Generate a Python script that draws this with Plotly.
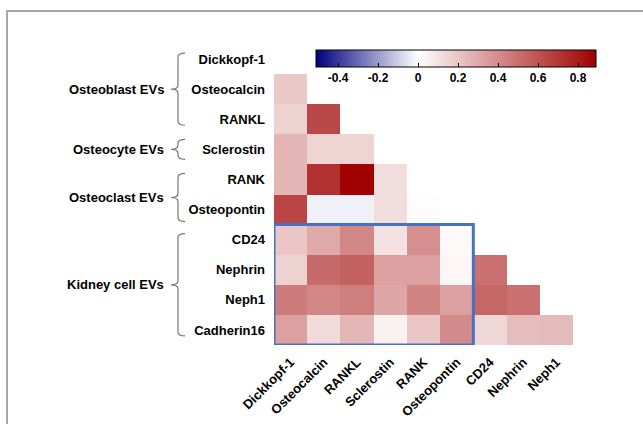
import plotly.graph_objects as go

variables = ["Dickkopf-1", "Osteocalcin", "RANKL", "Sclerostin", "RANK",
             "Osteopontin", "CD24", "Nephrin", "Neph1", "Cadherin16"]
x_labels = variables[:-1]

# lower-triangle correlation values (row i has i entries)
r_osteocalcin = [0.19]
r_rankl = [0.16, 0.64]
r_sclerostin = [0.26, 0.15, 0.15]
r_rank = [0.26, 0.72, 0.88, 0.12]
r_osteopontin = [0.65, -0.03, -0.03, 0.12, 0.01]
r_cd24 = [0.20, 0.30, 0.42, 0.10, 0.39, 0.02]
r_nephrin = [0.16, 0.52, 0.55, 0.33, 0.33, 0.03, 0.50]
r_neph1 = [0.46, 0.42, 0.45, 0.31, 0.43, 0.33, 0.53, 0.50]
r_cadherin16 = [0.33, 0.13, 0.25, 0.05, 0.20, 0.41, 0.14, 0.23, 0.24]

rows = [[], r_osteocalcin, r_rankl, r_sclerostin, r_rank, r_osteopontin,
        r_cd24, r_nephrin, r_neph1, r_cadherin16]

groups = ["Osteoblast EVs", "Osteocyte EVs", "Osteoclast EVs", "Kidney cell EVs"]
group_rows = [(0, 2), (3, 3), (4, 5), (6, 9)]

cb_ticks = [-0.4, -0.2, 0, 0.2, 0.4, 0.6, 0.8]
zmin, zmax = -0.51, 0.89

n = len(x_labels)
z = [r + [None] * (n - len(r)) for r in rows]

W, H = 643, 424
ML, MR, MT, MB = 274, 70, 44, 79
PW, PH = W - ML - MR, H - MT - MB

def px(xp):
    return (xp - ML) / PW

def py(yp):
    return (MT + PH - yp) / PH

row_h = PH / len(variables)

def row_center(i):
    return MT + (i + 0.5) * row_h

wpos = (0 - zmin) / (zmax - zmin)
colorscale = [[0, "rgb(0,0,128)"], [wpos, "rgb(255,255,255)"], [1, "rgb(160,0,0)"]]

fig = go.Figure(go.Heatmap(
    z=z, x=x_labels, y=variables, zmin=zmin, zmax=zmax,
    colorscale=colorscale, hoverongaps=False, xgap=0, ygap=0,
    colorbar=dict(orientation="h", x=px(316), xanchor="left", y=py(50), yanchor="top",
                  xpad=0, ypad=0,
                  len=280, lenmode="pixels", thickness=17, outlinecolor="black",
                  outlinewidth=1, tickvals=cb_ticks, ticktext=[f"{t:g}" for t in cb_ticks],
                  ticks="inside", ticklen=4, tickcolor="black",
                  tickfont=dict(family="Liberation Sans", size=12, color="black", weight="bold"),
                  ticklabelposition="outside bottom")
))

shapes = []
# frame
shapes.append(dict(type="rect", xref="paper", yref="paper", x0=px(7), x1=px(660),
                   y0=py(11), y1=py(440), line=dict(color="#a8a8a8", width=2)))
# blue box
shapes.append(dict(type="rect", xref="x", yref="y", x0=-0.5, x1=5.5, y0=5.5, y1=9.5,
                   line=dict(color="#4472C4", width=3)))

annotations = []
for g, (a, b) in zip(groups, group_rows):
    top = row_center(a) - 6 if a != b else row_center(a) - 10
    bot = row_center(b) + 6 if a != b else row_center(b) + 10
    if g == "Osteoclast EVs":
        bot = row_center(b) + 12
    mid = (top + bot) / 2
    xv, xh, xt = 178, 185, 171
    c = 4
    path = (f"M {px(xh)},{py(top)} Q {px(xv)},{py(top)} {px(xv)},{py(top + c)} "
            f"L {px(xv)},{py(mid - c)} Q {px(xv)},{py(mid)} {px(xt)},{py(mid)} "
            f"Q {px(xv)},{py(mid)} {px(xv)},{py(mid + c)} "
            f"L {px(xv)},{py(bot - c)} Q {px(xv)},{py(bot)} {px(xh)},{py(bot)}")
    shapes.append(dict(type="path", xref="paper", yref="paper", path=path,
                       line=dict(color="#777777", width=1.2)))
    annotations.append(dict(text=g, xref="paper", yref="paper", x=px(166), y=py(mid),
                            xanchor="right", yanchor="middle", showarrow=False,
                            font=dict(family="Liberation Sans", size=13, color="black",
                                      weight="bold")))

fig.update_layout(
    width=W, height=H, margin=dict(l=ML, r=MR, t=MT, b=MB, autoexpand=False),
    paper_bgcolor="white", plot_bgcolor="white",
    shapes=shapes, annotations=annotations,
    xaxis=dict(type="category", range=[-0.5, n - 0.5], showgrid=False, zeroline=False,
               tickangle=-45, ticks="", showline=False, ticklabelstandoff=6,
               tickfont=dict(family="Liberation Sans", size=13, color="black", weight="bold")),
    yaxis=dict(type="category", range=[len(variables) - 0.5, -0.5], showgrid=False,
               zeroline=False, ticks="", showline=False, ticklabelstandoff=8,
               tickfont=dict(family="Liberation Sans", size=13, color="black", weight="bold")),
)

fig.write_html("out.html", config={"displayModeBar": False},
               post_script="document.body.style.margin='0';document.body.style.overflow='hidden';")
